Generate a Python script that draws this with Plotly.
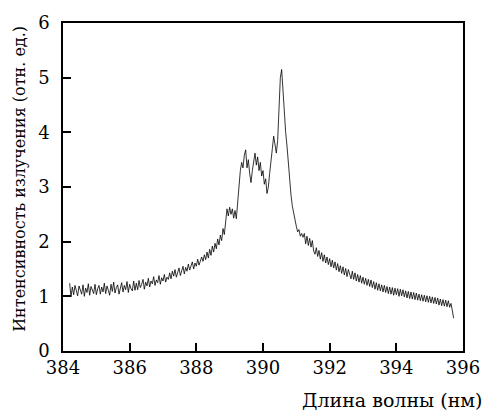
import numpy as np
import plotly.graph_objects as go

# Wavelength grid (nm): 384.20 ... 395.72, step 0.04
wl_start = 384.20
wl_step = 0.04

# Intensity (rel. units), 1 nm per row
y_384 = [1.24, 0.99, 1.17, 1.03, 1.20, 1.08, 1.01, 1.19, 1.12, 1.04, 1.21, 1.00, 1.15, 1.07, 1.23, 1.02, 1.18, 1.10, 1.05, 1.22, 1.03, 1.14, 1.20, 1.04, 1.17]
y_385 = [1.08, 1.24, 1.05, 1.19, 1.11, 1.02, 1.22, 1.09, 1.26, 1.06, 1.16, 1.21, 1.04, 1.18, 1.25, 1.08, 1.20, 1.12, 1.27, 1.07, 1.22, 1.14, 1.10, 1.28, 1.11]
y_386 = [1.24, 1.12, 1.29, 1.16, 1.22, 1.31, 1.13, 1.26, 1.19, 1.33, 1.17, 1.28, 1.23, 1.36, 1.20, 1.30, 1.25, 1.38, 1.22, 1.34, 1.28, 1.40, 1.26, 1.35, 1.31]
y_387 = [1.43, 1.32, 1.46, 1.37, 1.49, 1.35, 1.44, 1.52, 1.38, 1.47, 1.55, 1.41, 1.53, 1.46, 1.59, 1.48, 1.56, 1.63, 1.50, 1.61, 1.55, 1.68, 1.57, 1.65, 1.72]
y_388 = [1.64, 1.76, 1.67, 1.81, 1.70, 1.86, 1.75, 1.92, 1.81, 1.97, 1.87, 2.05, 1.94, 2.12, 2.02, 2.24, 2.13, 2.40, 2.60, 2.47, 2.63, 2.50, 2.60, 2.43, 2.57]
y_389 = [2.42, 2.75, 3.10, 3.30, 3.45, 3.35, 3.58, 3.68, 3.35, 3.50, 3.25, 3.08, 3.30, 3.50, 3.62, 3.40, 3.55, 3.30, 3.45, 3.20, 3.30, 3.05, 3.15, 2.88, 3.00]
y_390 = [3.25, 3.44, 3.70, 3.93, 3.75, 3.62, 3.85, 4.45, 5.00, 5.15, 4.70, 4.35, 4.00, 3.75, 3.40, 3.10, 2.85, 2.65, 2.50, 2.35, 2.28, 2.18, 2.22, 2.10, 2.15]
y_391 = [2.08, 2.15, 1.96, 2.10, 1.93, 2.06, 1.90, 2.02, 1.83, 1.77, 1.89, 1.73, 1.84, 1.68, 1.80, 1.64, 1.76, 1.61, 1.72, 1.58, 1.69, 1.54, 1.66, 1.52, 1.63]
y_392 = [1.48, 1.60, 1.45, 1.56, 1.42, 1.54, 1.39, 1.51, 1.36, 1.49, 1.41, 1.32, 1.46, 1.31, 1.43, 1.28, 1.40, 1.26, 1.38, 1.24, 1.35, 1.22, 1.33, 1.20, 1.31]
y_393 = [1.18, 1.30, 1.16, 1.27, 1.13, 1.25, 1.11, 1.23, 1.10, 1.21, 1.08, 1.20, 1.07, 1.18, 1.05, 1.17, 1.04, 1.16, 1.02, 1.15, 1.03, 1.14, 1.00, 1.13, 1.01]
y_394 = [1.12, 0.99, 1.10, 0.97, 1.09, 0.96, 1.08, 0.95, 1.07, 0.94, 1.06, 0.93, 1.04, 0.92, 1.03, 0.91, 1.02, 0.90, 1.01, 0.89, 1.00, 0.88, 0.99, 0.87, 0.98]
y_395 = [0.86, 0.97, 0.84, 0.95, 0.83, 0.94, 0.82, 0.93, 0.81, 0.92, 0.80, 0.87, 0.74, 0.60]

intensity = y_384 + y_385 + y_386 + y_387 + y_388 + y_389 + y_390 + y_391 + y_392 + y_393 + y_394 + y_395
wavelength = wl_start + wl_step * np.arange(len(intensity))

x_ticks = [384, 386, 388, 390, 392, 394, 396]
y_ticks = [0, 1, 2, 3, 4, 5, 6]

FONT = "DejaVu Serif"

fig = go.Figure()
fig.add_trace(go.Scatter(x=wavelength, y=intensity, mode="lines",
                         line=dict(color="black", width=0.8), showlegend=False))

axis_common = dict(showline=True, linecolor="black", linewidth=1.5, mirror=True,
                   ticks="inside", ticklen=8, tickwidth=1.5, tickcolor="black",
                   showgrid=False, zeroline=False,
                   tickfont=dict(family=FONT, size=18, color="black"))

fig.update_xaxes(range=[384, 396], tickvals=x_ticks, **axis_common)
fig.update_yaxes(range=[0, 6], tickvals=y_ticks, ticklabelstandoff=8, **axis_common)

fig.add_annotation(text="Длина волны (нм)", xref="paper", yref="paper",
                   x=1.056, y=-0.150, xanchor="right", yanchor="middle",
                   showarrow=False, font=dict(family=FONT, size=19, color="black"))
fig.add_annotation(text="Интенсивность излучения (отн. ед.)", xref="paper", yref="paper",
                   x=-0.1095, y=0.5255, xanchor="center", yanchor="middle", textangle=-90,
                   showarrow=False, font=dict(family=FONT, size=16, color="black"))

fig.update_layout(width=492, height=412, margin=dict(l=63, r=18, t=18, b=61),
                  plot_bgcolor="white", paper_bgcolor="white")

fig.write_html("out.html", post_script="document.body.style.margin='0';",
               config={"displayModeBar": False})
